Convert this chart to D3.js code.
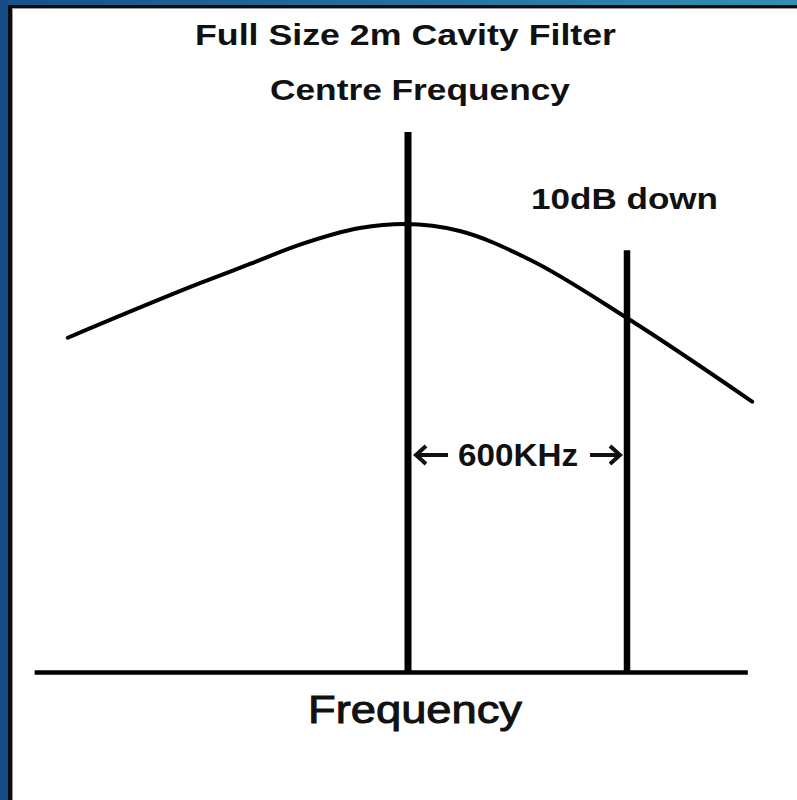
<!DOCTYPE html>
<html lang="en">
<head>
    <meta charset="UTF-8">
    <title>Full Size 2m Cavity Filter</title>
    <script src="https://d3js.org/d3.v7.min.js"></script>
    <style>
        html, body { margin: 0; padding: 0; background: #fff; }
        svg { display: block; }
        .lbl { font-family: "Liberation Sans", Arial, sans-serif; fill: #111; }
    </style>
</head>
<body>
    <svg width="797" height="800"></svg>
    <script>
        // response curve, offset from centre in kHz vs relative level in dB
        const curveFreq = [-932, -570, -433, -296, -132, -8, 142, 334, 600, 943];
        const curveDb   = [-12.1, -6.3, -4.25, -2.2, -0.43, 0, -0.74, -3.8, -10.0, -18.9];

        // centre frequency and 10dB down markers
        const markerFreq = [0, 600];
        const markerTop  = [9.8, -2.8];

        const axisFreq = [-1023, 931];
        const floorDb = -47.7;

        const titleLines = ["Full Size 2m Cavity Filter", "Centre Frequency"];
        const markerLabel = "10dB down";
        const spanLabel = "600KHz";
        const axisLabel = "Frequency";

        const width = 797, height = 800;
        const svg = d3.select("svg");

        // frame: blue window edge + dark border
        const grad = svg.append("defs").append("linearGradient")
            .attr("id", "topbar").attr("x1", 0).attr("x2", 1);
        grad.append("stop").attr("offset", 0).attr("stop-color", "#17508c");
        grad.append("stop").attr("offset", 1).attr("stop-color", "#3190b3");

        svg.append("rect").attr("x", 0).attr("y", 0).attr("width", width).attr("height", 6).attr("fill", "url(#topbar)");
        svg.append("rect").attr("x", 0).attr("y", 0).attr("width", 8).attr("height", height).attr("fill", "#174c87");
        svg.append("rect").attr("x", 8).attr("y", 5).attr("width", width - 8).attr("height", 3).attr("fill", "#0c0c0c");
        svg.append("rect").attr("x", 8).attr("y", 5).attr("width", 4).attr("height", height - 5).attr("fill", "#0c0c0c");
        svg.append("rect").attr("x", 12).attr("y", 8).attr("width", width - 12).attr("height", 1).attr("fill", "#9a9a9a");
        svg.append("rect").attr("x", 12).attr("y", 8).attr("width", 1).attr("height", height - 8).attr("fill", "#9a9a9a");

        const x = d3.scaleLinear().domain([0, 600]).range([408, 627]);
        const y = d3.scaleLinear().domain([0, -10]).range([224, 318]);

        // baseline
        svg.append("line")
            .attr("x1", x(axisFreq[0])).attr("x2", x(axisFreq[1]))
            .attr("y1", y(floorDb)).attr("y2", y(floorDb))
            .attr("stroke", "#000").attr("stroke-width", 4.5);

        // marker lines
        svg.selectAll(".marker")
            .data(markerFreq)
            .enter().append("line")
            .attr("class", "marker")
            .attr("x1", d => x(d)).attr("x2", d => x(d))
            .attr("y1", (d, i) => y(markerTop[i]))
            .attr("y2", y(floorDb))
            .attr("stroke", "#000")
            .attr("stroke-width", (d, i) => i === 0 ? 7 : 6.5);

        // response curve
        const line = d3.line()
            .x(d => x(d[0]))
            .y(d => y(d[1]))
            .curve(d3.curveMonotoneX);

        svg.append("path")
            .datum(curveFreq.map((f, i) => [f, curveDb[i]]))
            .attr("d", line)
            .attr("fill", "none")
            .attr("stroke", "#000")
            .attr("stroke-width", 4)
            .attr("stroke-linecap", "round");

        // titles
        const titleSpec = [
            { x: 195, y: 45, len: 421 },
            { x: 270, y: 100, len: 300 }
        ];
        svg.selectAll(".title")
            .data(titleLines)
            .enter().append("text")
            .attr("class", "lbl title")
            .attr("x", (d, i) => titleSpec[i].x)
            .attr("y", (d, i) => titleSpec[i].y)
            .attr("textLength", (d, i) => titleSpec[i].len)
            .attr("lengthAdjust", "spacingAndGlyphs")
            .style("font-size", "30px")
            .style("font-weight", "bold")
            .text(d => d);

        svg.append("text")
            .attr("class", "lbl")
            .attr("x", 531).attr("y", 209)
            .attr("textLength", 187)
            .attr("lengthAdjust", "spacingAndGlyphs")
            .style("font-size", "30px")
            .style("font-weight", "bold")
            .text(markerLabel);

        // span annotation with arrows
        const spanY = 455;
        svg.append("text")
            .attr("class", "lbl")
            .attr("x", (x(markerFreq[0]) + x(markerFreq[1])) / 2 + 0.5)
            .attr("y", spanY + 11)
            .attr("text-anchor", "middle")
            .attr("textLength", 120)
            .attr("lengthAdjust", "spacingAndGlyphs")
            .style("font-size", "32px")
            .style("font-weight", "bold")
            .text(spanLabel);

        const arrows = [
            { from: x(markerFreq[0]) + 40, to: x(markerFreq[0]) + 8 },
            { from: x(markerFreq[1]) - 37, to: x(markerFreq[1]) - 7 }
        ];
        arrows.forEach(a => {
            const dir = Math.sign(a.to - a.from);
            svg.append("path")
                .attr("d", `M${a.from},${spanY}L${a.to},${spanY}M${a.to - dir * 10},${spanY - 9}L${a.to},${spanY}L${a.to - dir * 10},${spanY + 9}`)
                .attr("fill", "none")
                .attr("stroke", "#111")
                .attr("stroke-width", 4)
                .attr("stroke-linejoin", "miter");
        });

        // axis label
        svg.append("text")
            .attr("class", "lbl")
            .attr("x", 308).attr("y", 723)
            .attr("textLength", 214)
            .attr("lengthAdjust", "spacingAndGlyphs")
            .style("font-size", "39px")
            .style("stroke", "#111")
            .style("stroke-width", 1)
            .text(axisLabel);
    </script>
</body>
</html>
